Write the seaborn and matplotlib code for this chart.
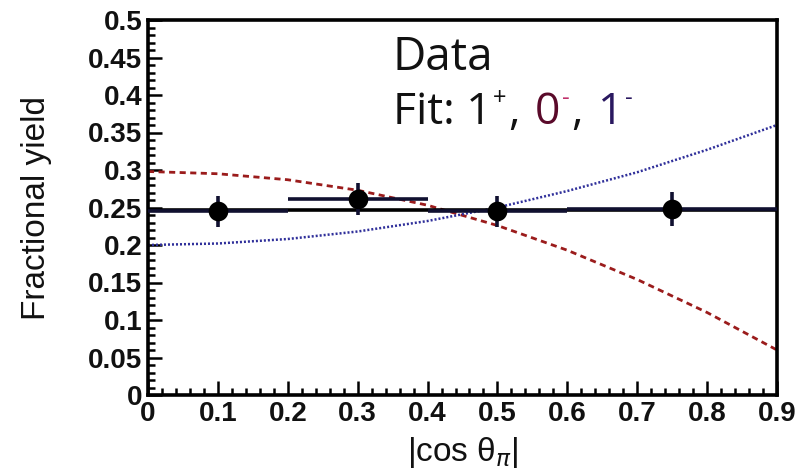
import matplotlib
matplotlib.use("Agg")
import matplotlib.pyplot as plt
import seaborn as sns
import numpy as np
import pandas as pd
from matplotlib.ticker import MultipleLocator

# ---- data ----
x_centers = [0.1, 0.3, 0.5, 0.75]
x_low = [0.0, 0.2, 0.4, 0.6]
x_high = [0.2, 0.4, 0.6, 0.9]
y_vals = [0.245, 0.261, 0.245, 0.248]
y_errs = [0.021, 0.021, 0.021, 0.023]

curve_x = [0.0, 0.1, 0.2, 0.3, 0.4, 0.5, 0.6, 0.7, 0.8, 0.9]
fit_1plus = [0.247, 0.247, 0.247, 0.247, 0.247, 0.247, 0.247, 0.247, 0.247, 0.247]
fit_0minus = [0.298, 0.295, 0.287, 0.273, 0.253, 0.226, 0.193, 0.154, 0.110, 0.060]
fit_1minus = [0.200, 0.202, 0.208, 0.218, 0.232, 0.250, 0.272, 0.297, 0.327, 0.360]

x_ticks = [0, 0.1, 0.2, 0.3, 0.4, 0.5, 0.6, 0.7, 0.8, 0.9]
x_tick_labels = ["0", "0.1", "0.2", "0.3", "0.4", "0.5", "0.6", "0.7", "0.8", "0.9"]
y_ticks = [0, 0.05, 0.1, 0.15, 0.2, 0.25, 0.3, 0.35, 0.4, 0.45, 0.5]
y_tick_labels = ["0", "0.05", "0.1", "0.15", "0.2", "0.25", "0.3", "0.35", "0.4", "0.45", "0.5"]

sns.set_theme(style="white")
plt.rcParams['font.family'] = ['Liberation Sans', 'DejaVu Sans']

fig = plt.figure(figsize=(8.02, 4.74), dpi=100)
ax = fig.add_axes([148/802, 79/474, (777-148)/802, (395-20)/474])

curves = pd.DataFrame({"x": curve_x, "one_plus": fit_1plus,
                       "zero_minus": fit_0minus, "one_minus": fit_1minus})

sns.lineplot(data=curves, x="x", y="zero_minus", ax=ax, color="#9b1c1c",
             linewidth=2.0, linestyle=(0, (2.2, 1.6)), zorder=2)
sns.lineplot(data=curves, x="x", y="one_minus", ax=ax, color="#2f2f9a",
             linewidth=1.8, linestyle=(0, (0.8, 0.8)), zorder=2)
sns.lineplot(data=curves, x="x", y="one_plus", ax=ax, color="black",
             linewidth=2.6, zorder=3)

xerr = [np.array(x_centers) - np.array(x_low), np.array(x_high) - np.array(x_centers)]
ax.errorbar(x_centers, y_vals, xerr=xerr, yerr=y_errs, fmt="none",
            ecolor="#101030", elinewidth=2.6, capsize=0, zorder=4)
pts = pd.DataFrame({"x": x_centers, "y": y_vals})
sns.scatterplot(data=pts, x="x", y="y", ax=ax, color="black", s=200,
                edgecolor="black", linewidth=0, zorder=5)

ax.set_xlim(0, 0.9)
ax.set_ylim(0, 0.5)
ax.set_xticks(x_ticks)
ax.set_xticklabels(x_tick_labels)
ax.set_yticks(y_ticks)
ax.set_yticklabels(y_tick_labels)
ax.xaxis.set_minor_locator(MultipleLocator(0.02))
ax.yaxis.set_minor_locator(MultipleLocator(0.01))
ax.tick_params(axis="both", which="both", direction="in", top=False, right=False,
               left=True, bottom=True, color="black", width=1.8)
ax.tick_params(axis="both", which="major", length=10, labelsize=20, pad=4)
ax.tick_params(axis="both", which="minor", length=5)
for lab in ax.get_xticklabels() + ax.get_yticklabels():
    lab.set_fontweight("bold")
    lab.set_color("#111111")

for sp in ax.spines.values():
    sp.set_visible(True)
    sp.set_color("black")
    sp.set_linewidth(2.6)

ax.set_xlabel(r"|cos θ$_{\pi}$|", fontsize=24, labelpad=6, color="#111111")
ax.set_ylabel("Fractional yield", fontsize=24, labelpad=26, color="#111111")

# annotation text
tfam = ['Open Sans', 'DejaVu Sans']
big = 32
small = 17
x0 = 0.35
base_data = 0.433
base_fit = 0.362
sup = 13
ax.text(x0, base_data, "Data", fontsize=big + 1, family=tfam, color="#111111",
        va="baseline", ha="left")
t = ax.text(x0, base_fit, "Fit: 1", fontsize=big, family=tfam, color="#111111",
            va="baseline", ha="left")
pieces = [("+", small, "#111111", True),
          (", ", big, "#111111", False),
          ("0", big, "#5a0a2a", False),
          ("-", small, "#c0306a", True),
          (", ", big, "#111111", False),
          ("1", big, "#2a1860", False),
          ("-", small, "#2a1860", True)]
for txt, fs, col, is_sup in pieces:
    t = ax.annotate(txt, xy=(1, base_fit), xycoords=(t, "data"),
                    xytext=(1 if is_sup else 2, sup if is_sup else 0),
                    textcoords="offset points", fontsize=fs, family=tfam,
                    color=col, va="baseline", ha="left")

fig.savefig("out.png", dpi=100, facecolor="white")
